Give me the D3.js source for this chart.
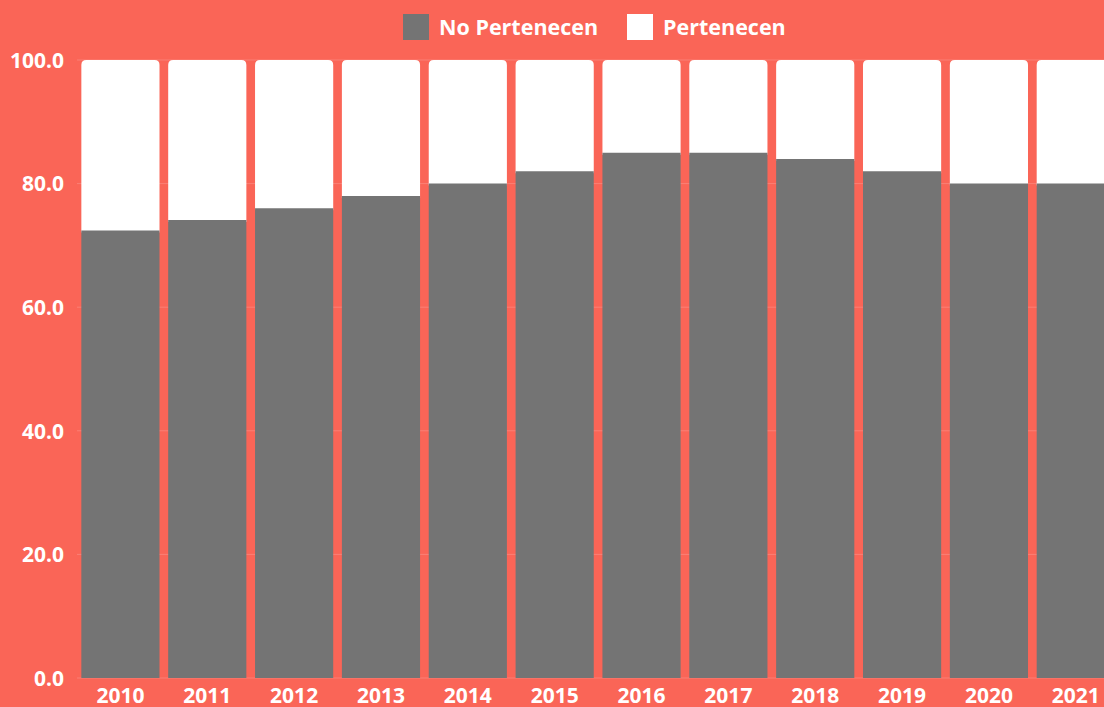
<!DOCTYPE html>
<html><head><meta charset="utf-8">
<script src="https://cdn.jsdelivr.net/npm/d3@7"></script>
<style>
html,body{margin:0;padding:0;background:#FA6557;overflow:hidden}
svg{display:block}
text{font-family:"Open Sans","Noto Sans",sans-serif;font-weight:700;fill:#fff}
</style></head>
<body>
<svg id="c" width="1104" height="707"></svg>
<script>
const years = ["2010","2011","2012","2013","2014","2015","2016","2017","2018","2019","2020","2021"];
const noPertenecen = [72.4, 74.1, 76.0, 78.0, 80.0, 82.0, 85.0, 85.0, 84.0, 82.0, 80.0, 80.0];
const pertenecen = noPertenecen.map(v => +(100 - v).toFixed(1));
const seriesNames = ["No Pertenecen", "Pertenecen"];
const seriesColors = ["#747474", "#ffffff"];
const yTicks = [0, 20, 40, 60, 80, 100];

const W = 1104, H = 707;
const svg = d3.select("#c");
const x = d3.scaleBand().domain(years).range([77, 77 + 12 * 86.85]).paddingInner(0.1).paddingOuter(0.05);
const y = d3.scaleLinear().domain([0, 100]).range([678, 60]);

// grid
svg.append("g").selectAll("line").data(yTicks).join("line")
  .attr("x1", 77).attr("x2", W).attr("y1", d => y(d)).attr("y2", d => y(d))
  .attr("stroke", "rgba(255,255,255,0.18)").attr("stroke-width", 1);

const table = years.map((yr, i) => ({year: yr, "No Pertenecen": noPertenecen[i], "Pertenecen": pertenecen[i]}));
const stack = d3.stack().keys(seriesNames)(table);

function topRounded(x0, y0, w, h, r) {
  r = Math.min(r, h, w / 2);
  return `M${x0},${y0 + h}V${y0 + r}Q${x0},${y0} ${x0 + r},${y0}H${x0 + w - r}Q${x0 + w},${y0} ${x0 + w},${y0 + r}V${y0 + h}Z`;
}

// draw white (top) first, extended slightly down, then gray on top to avoid seams
[1, 0].forEach(si => {
  const s = stack[si];
  svg.append("g").selectAll("path").data(s).join("path")
    .attr("fill", seriesColors[si])
    .attr("d", d => {
      const x0 = x(d.data.year), w = x.bandwidth();
      const yt = y(d[1]), yb = y(d[0]);
      return si === 1 ? topRounded(x0, yt, w, yb - yt + 2, 5) : `M${x0},${yb}V${yt}H${x0 + w}V${yb}Z`;
    });
});

// y axis labels
const yAxis = d3.axisLeft(y).tickValues(yTicks).tickFormat(d3.format(".1f")).tickSize(0).tickPadding(0);
const ya = svg.append("g").attr("transform", "translate(64,0)").call(yAxis);
ya.select(".domain").remove();
ya.selectAll("text").attr("font-size", 21).attr("fill", "#fff").attr("dy", "0.35em")
  .style("font-family", '"Open Sans","Noto Sans",sans-serif').style("font-weight", 700);

// x axis labels
const xAxis = d3.axisBottom(x).tickSize(0).tickPadding(0);
const xa = svg.append("g").attr("transform", "translate(0,688)").call(xAxis);
xa.select(".domain").remove();
xa.selectAll("text").attr("font-size", 21).attr("fill", "#fff").attr("dy", "0.71em").attr("y", 0)
  .style("font-family", '"Open Sans","Noto Sans",sans-serif').style("font-weight", 700);

// legend
const legendX = [403, 627];
const lg = svg.append("g");
seriesNames.forEach((n, i) => {
  lg.append("rect").attr("x", legendX[i]).attr("y", 14).attr("width", 26).attr("height", 26)
    .attr("fill", seriesColors[i]);
  lg.append("text").attr("x", legendX[i] + 36).attr("y", 27).attr("dy", "0.35em")
    .attr("font-size", 21.5).text(n);
});
</script>
</body></html>
